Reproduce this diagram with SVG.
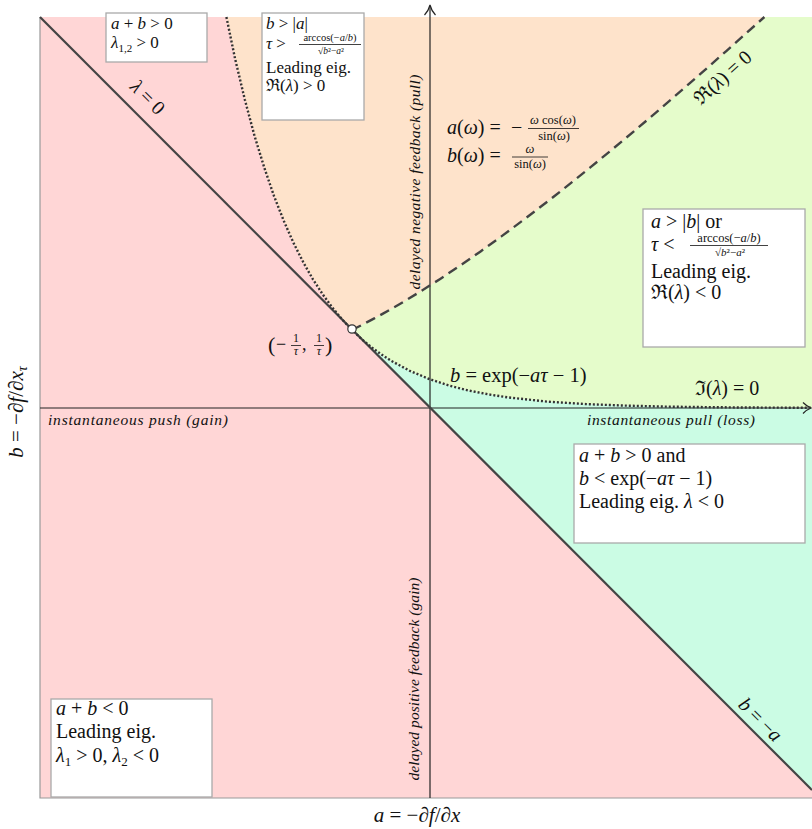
<svg xmlns="http://www.w3.org/2000/svg" width="812" height="829" viewBox="0 0 812 829">
<style>
.m{font-family:"Liberation Serif","DejaVu Serif",serif;fill:#111}
.it{font-style:italic}
.box{fill:#fff;stroke:#aaa;stroke-width:1.3}
.bar{stroke:#111;stroke-width:0.8}
.lab{font-family:"Liberation Serif","DejaVu Serif",serif;font-style:italic;fill:#111}
</style>
<rect width="812" height="829" fill="#fff"/>
<g id="regions">
<rect x="40" y="17" width="772" height="781" fill="#ffd6d6"/>
<polygon id="orange" fill="#fee3cb" points="226.4,17 235,58.4 244.8,99.5 254.5,135.8 264.3,167.7 274,196 283.8,220.9 293.5,242.9 303.3,262.3 313,279.4 322.8,294.5 332.5,307.8 342.3,319.6 352,330 354.4,328.8 361.6,325.1 374.3,318.4 383,313.6 393.6,307.6 406.4,300.1 421.7,290.7 440.2,278.9 462.8,263.8 480.6,251.4 501.4,236.4 525.8,218.2 554.9,195.8 590.3,167.4 611,150.4 634.4,130.9 660.8,108.4 691,82.2 726,51.3 764.4,17"/>
<polygon id="green" fill="#e5fccb" points="352,330 354.4,328.8 361.6,325.1 374.3,318.4 383,313.6 393.6,307.6 406.4,300.1 421.7,290.7 440.2,278.9 462.8,263.8 480.6,251.4 501.4,236.4 525.8,218.2 554.9,195.8 590.3,167.4 611,150.4 634.4,130.9 660.8,108.4 691,82.2 726,51.3 764.4,17 812,17 812,407.8 742,407.5 703,407.1 664,406.6 625,405.6 586,404.1 547,401.6 508,397.4 488.5,394.4 469,390.6 449.5,385.7 430,379.3 410.5,371.2 391,360.7 381.3,354.4 371.5,347.3 361.8,339.2"/>
<polygon id="mint" fill="#cbfce4" points="352,330 361.8,339.2 371.5,347.3 381.3,354.4 391,360.7 410.5,371.2 430,379.3 449.5,385.7 469,390.6 488.5,394.4 508,397.4 547,401.6 586,404.1 625,405.6 664,406.6 703,407.1 742,407.5 812,407.8 812,790"/>
<path d="M40,17 V798 H812" fill="none" stroke="#999" stroke-width="1.2"/>
</g>
<g id="connectors" fill="none">
<line x1="40" y1="408" x2="810" y2="408" stroke="#222" stroke-width="1.2"/>
<path d="M803,402.5 Q807,406.5 811,408 Q807,409.5 803,413.5" stroke="#222" stroke-width="1.2"/>
<line x1="430" y1="798" x2="430" y2="6" stroke="#222" stroke-width="1.2"/>
<path d="M424.5,15 Q428.5,11 430,5 Q431.5,11 435.5,15" stroke="#222" stroke-width="1.2"/>
<line x1="40" y1="17" x2="812" y2="790" stroke="#444" stroke-width="2.2"/>
<polyline stroke="#444" stroke-width="2.4" stroke-dasharray="10,6" points="352,330 354.4,328.8 361.6,325.1 374.3,318.4 383,313.6 393.6,307.6 406.4,300.1 421.7,290.7 440.2,278.9 462.8,263.8 480.6,251.4 501.4,236.4 525.8,218.2 554.9,195.8 590.3,167.4 611,150.4 634.4,130.9 660.8,108.4 691,82.2 726,51.3 764.4,17"/>
<polyline stroke="#333" stroke-width="2.4" stroke-dasharray="2,2" points="226.4,17 235,58.4 244.8,99.5 254.5,135.8 264.3,167.7 274,196 283.8,220.9 293.5,242.9 303.3,262.3 313,279.4 322.8,294.5 332.5,307.8 342.3,319.6 352,330 361.8,339.2 371.5,347.3 381.3,354.4 391,360.7 410.5,371.2 430,379.3 449.5,385.7 469,390.6 488.5,394.4 508,397.4 547,401.6 586,404.1 625,405.6 664,406.6 703,407.1 742,407.5 812,407.8"/>
<circle cx="352" cy="329" r="4.2" fill="#fff" stroke="#333" stroke-width="1.2"/>
</g>
<g id="box-unstable-real">
<rect class="box" x="106" y="13" width="101" height="49"/>
<text class="m" x="111" y="29" font-size="17"><tspan class="it">a</tspan> + <tspan class="it">b</tspan> &gt; 0</text>
<text class="m" x="111" y="48" font-size="17"><tspan class="it">λ</tspan><tspan font-size="11" dy="4">1,2</tspan><tspan dy="-4"> &gt; 0</tspan></text>
</g>
<g id="box-unstable-osc">
<rect class="box" x="262" y="13" width="102" height="107"/>
<text class="m" x="266" y="29" font-size="17"><tspan class="it">b</tspan> &gt; |<tspan class="it">a</tspan>|</text>
<text class="m" x="266" y="49" font-size="17"><tspan class="it">τ</tspan> &gt;</text>
<text class="m" x="330" y="41" font-size="10.5" text-anchor="middle">arccos(−<tspan class="it">a</tspan>/<tspan class="it">b</tspan>)</text>
<line class="bar" x1="299" y1="44.5" x2="361" y2="44.5"/>
<text class="m" x="331" y="54" font-size="9.5" text-anchor="middle">√<tspan class="it">b</tspan>²−<tspan class="it">a</tspan>²</text>
<text class="m" x="266" y="73" font-size="17">Leading eig.</text>
<text class="m" x="266" y="91" font-size="17">ℜ(<tspan class="it">λ</tspan>) &gt; 0</text>
</g>
<g id="box-stable-osc">
<rect class="box" x="643" y="209" width="162" height="138"/>
<text class="m" x="651" y="228" font-size="20"><tspan class="it">a</tspan> &gt; |<tspan class="it">b</tspan>| or</text>
<text class="m" x="651" y="251" font-size="20"><tspan class="it">τ</tspan> &lt;</text>
<text class="m" x="729" y="242" font-size="12.5" text-anchor="middle">arccos(−<tspan class="it">a</tspan>/<tspan class="it">b</tspan>)</text>
<line class="bar" x1="690" y1="245.5" x2="768" y2="245.5"/>
<text class="m" x="730" y="256" font-size="11" text-anchor="middle">√<tspan class="it">b</tspan>²−<tspan class="it">a</tspan>²</text>
<text class="m" x="651" y="278" font-size="20">Leading eig.</text>
<text class="m" x="651" y="299" font-size="20">ℜ(<tspan class="it">λ</tspan>) &lt; 0</text>
</g>
<g id="box-stable-real">
<rect class="box" x="574" y="444" width="231" height="99"/>
<text class="m" x="579" y="462" font-size="20"><tspan class="it">a</tspan> + <tspan class="it">b</tspan> &gt; 0 and</text>
<text class="m" x="579" y="485" font-size="20"><tspan class="it">b</tspan> &lt; exp(−<tspan class="it">aτ</tspan> − 1)</text>
<text class="m" x="579" y="508" font-size="20">Leading eig.  <tspan class="it">λ</tspan> &lt; 0</text>
</g>
<g id="box-saddle">
<rect class="box" x="51" y="699" width="161" height="98"/>
<text class="m" x="56" y="715" font-size="20"><tspan class="it">a</tspan> + <tspan class="it">b</tspan> &lt; 0</text>
<text class="m" x="56" y="738" font-size="20">Leading eig.</text>
<text class="m" x="56" y="762" font-size="20"><tspan class="it">λ</tspan><tspan font-size="13" dy="4">1</tspan><tspan dy="-4"> &gt; 0, </tspan><tspan class="it">λ</tspan><tspan font-size="13" dy="4">2</tspan><tspan dy="-4"> &lt; 0</tspan></text>
</g>
<g id="labels">
<text class="m" font-size="20" text-anchor="middle" transform="translate(143,102) rotate(45)"><tspan class="it">λ</tspan> = 0</text>
<text class="m" font-size="20" text-anchor="middle" transform="translate(723,78) rotate(-42)" y="6">ℜ(<tspan class="it">λ</tspan>) = 0</text>
<text class="m" font-size="20" text-anchor="middle" transform="translate(760,720) rotate(45)" y="6"><tspan class="it">b</tspan> = −<tspan class="it">a</tspan></text>
<text class="m" x="447" y="134" font-size="20"><tspan class="it">a</tspan>(<tspan class="it">ω</tspan>) =</text>
<text class="m" x="511" y="134" font-size="20">−</text>
<text class="m" x="553" y="124" font-size="12.5" text-anchor="middle"><tspan class="it">ω</tspan> cos(<tspan class="it">ω</tspan>)</text>
<line class="bar" x1="528" y1="128.5" x2="579" y2="128.5"/>
<text class="m" x="554" y="140" font-size="12.5" text-anchor="middle">sin(<tspan class="it">ω</tspan>)</text>
<text class="m" x="447" y="162" font-size="20"><tspan class="it">b</tspan>(<tspan class="it">ω</tspan>) =</text>
<text class="m it" x="530" y="153" font-size="12.5" text-anchor="middle">ω</text>
<line class="bar" x1="512" y1="157" x2="548" y2="157"/>
<text class="m" x="530" y="168" font-size="12.5" text-anchor="middle">sin(<tspan class="it">ω</tspan>)</text>
<text class="m" x="268" y="352" font-size="22">(</text>
<text class="m" x="276" y="350" font-size="18">−</text>
<text class="m" x="296" y="342" font-size="12" text-anchor="middle">1</text>
<line class="bar" x1="291" y1="345.5" x2="301" y2="345.5"/>
<text class="m it" x="296" y="355" font-size="12" text-anchor="middle">τ</text>
<text class="m" x="302" y="350" font-size="18">,</text>
<text class="m" x="319" y="342" font-size="12" text-anchor="middle">1</text>
<line class="bar" x1="314" y1="345.5" x2="324" y2="345.5"/>
<text class="m it" x="319" y="355" font-size="12" text-anchor="middle">τ</text>
<text class="m" x="325" y="352" font-size="22">)</text>
<text class="m" x="450" y="382" font-size="20.5"><tspan class="it">b</tspan> = exp(−<tspan class="it">aτ</tspan> − 1)</text>
<text class="m" x="695" y="395" font-size="20"><tspan>ℑ(</tspan><tspan class="it">λ</tspan>) = 0</text>
<text class="lab" x="587" y="425" font-size="15.5" textLength="168">instantaneous pull (loss)</text>
<text class="lab" x="48" y="425" font-size="15.5" textLength="180">instantaneous push (gain)</text>
<text class="lab" font-size="15.5" text-anchor="middle" textLength="215" transform="translate(420,182) rotate(-90)">delayed negative feedback (pull)</text>
<text class="lab" font-size="15.5" text-anchor="middle" textLength="203" transform="translate(419,679) rotate(-90)">delayed positive feedback (gain)</text>
<text class="m" x="417" y="822" font-size="21" text-anchor="middle"><tspan class="it">a</tspan> = −∂<tspan class="it">f</tspan>/∂<tspan class="it">x</tspan></text>
<text class="m" font-size="21" text-anchor="middle" transform="translate(23,412) rotate(-90)"><tspan class="it">b</tspan> = −∂<tspan class="it">f</tspan>/∂<tspan class="it">x</tspan><tspan class="it" font-size="14" dy="4">τ</tspan></text>
</g>
</svg>
